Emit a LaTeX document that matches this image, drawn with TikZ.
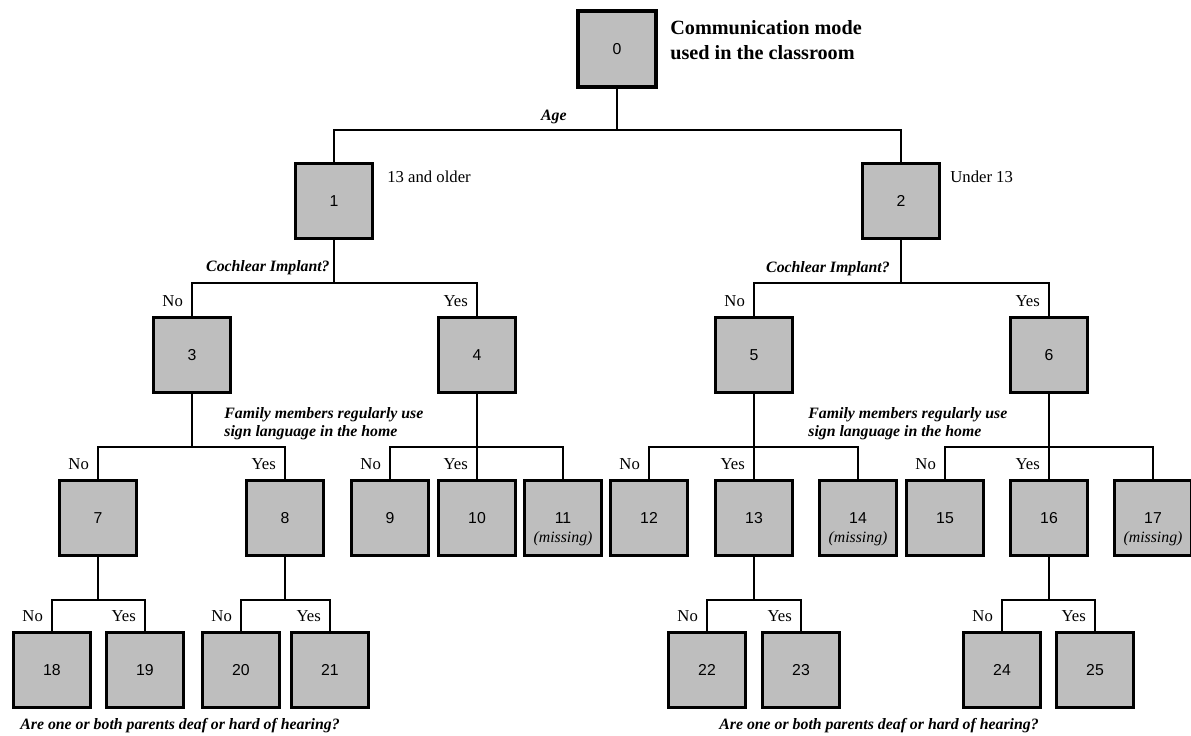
\documentclass[tikz,border=0pt]{standalone}
\usepackage{fontspec}
\setmainfont{Liberation Serif}
\setsansfont{Liberation Sans}
\definecolor{boxgray}{RGB}{190,190,190}

\begin{document}
\begin{tikzpicture}[x=0.02cm, y=-0.02cm,
    box/.style={draw, fill=boxgray, line width=1.3pt, minimum width=1.54cm, minimum height=1.5cm, inner sep=0pt, font=\sffamily\fontsize{9}{11}\selectfont},
    link/.style={line width=1.1pt},
    ans/.style={anchor=base east, inner sep=0pt, font=\fontsize{9.5}{11}\selectfont},
    quest/.style={inner sep=0pt, align=left, font=\bfseries\itshape\fontsize{9}{10.2}\selectfont},
    miss/.style={inner sep=0pt, font=\itshape\fontsize{9}{11}\selectfont}]
    \useasboundingbox (0,0) rectangle (1191,735);

    % Root
    \node[box, line width=1.9pt, minimum width=1.56cm, minimum height=1.52cm] (n0) at (617,49) {0};
    \node[anchor=west, inner sep=0pt, align=left, font=\bfseries\fontsize{11.5}{14}\selectfont] (title) at (670,40) {Communication mode\\used in the classroom};

    % Age
    \node[box] (n1) at (334,201) {1};
    \node[box] (n2) at (901,201) {2};
    \node[anchor=west, inner sep=0pt, font=\fontsize{9.5}{11}\selectfont] (older) at (387,177) {13 and older};
    \node[anchor=west, inner sep=0pt, font=\fontsize{9.5}{11}\selectfont] (under) at (950,177) {Under 13};
    \node[quest, anchor=east] (qage) at (567,117) {Age};

    % Cochlear implant
    \node[box] (n3) at (192,355) {3};
    \node[box] (n4) at (477,355) {4};
    \node[box] (n5) at (754,355) {5};
    \node[box] (n6) at (1049,355) {6};
    \node[quest, anchor=east] (qci1) at (330,268) {Cochlear Implant?};
    \node[quest, anchor=east] (qci2) at (890,269) {Cochlear Implant?};

    % Sign language in the home
    \node[box] (n7) at (98,518) {7};
    \node[box] (n8) at (285,518) {8};
    \node[box] (n9) at (390,518) {9};
    \node[box] (n10) at (477,518) {10};
    \node[box] (n11) at (563,518) {11};
    \node[box] (n12) at (649,518) {12};
    \node[box] (n13) at (754,518) {13};
    \node[box] (n14) at (858,518) {14};
    \node[box] (n15) at (945,518) {15};
    \node[box] (n16) at (1049,518) {16};
    \node[box] (n17) at (1153,518) {17};
    \node[miss] (m11) at ([yshift=-12pt]n11.center) {(missing)};
    \node[miss] (m14) at ([yshift=-12pt]n14.center) {(missing)};
    \node[miss] (m17) at ([yshift=-12pt]n17.center) {(missing)};
    \node[quest, anchor=west] (qsl1) at (224,424) {Family members regularly use\\sign language in the home};
    \node[quest, anchor=west] (qsl2) at (808,424) {Family members regularly use\\sign language in the home};

    % Deaf parents
    \node[box] (n18) at (52,670) {18};
    \node[box] (n19) at (145,670) {19};
    \node[box] (n20) at (241,670) {20};
    \node[box] (n21) at (330,670) {21};
    \node[box] (n22) at (707,670) {22};
    \node[box] (n23) at (801,670) {23};
    \node[box] (n24) at (1002,670) {24};
    \node[box] (n25) at (1095,670) {25};
    \node[quest, anchor=west] (qdp1) at (20,726) {Are one or both parents deaf or hard of hearing?};
    \node[quest, anchor=west] (qdp2) at (719,726) {Are one or both parents deaf or hard of hearing?};

    % Branches
    \coordinate (b0) at (617,130);
    \coordinate (b1) at (334,283);
    \coordinate (b2) at (901,283);
    \coordinate (b3) at (192,447);
    \coordinate (b4) at (477,447);
    \coordinate (b5) at (754,447);
    \coordinate (b6) at (1049,447);
    \coordinate (b7) at (98,600);
    \coordinate (b8) at (285,600);
    \coordinate (b13) at (754,600);
    \coordinate (b16) at (1049,600);
    \foreach \p/\b/\kids in {n0/b0/{n1,n2}, n1/b1/{n3,n4}, n2/b2/{n5,n6},
        n3/b3/{n7,n8}, n4/b4/{n9,n10,n11}, n5/b5/{n12,n13,n14}, n6/b6/{n15,n16,n17},
        n7/b7/{n18,n19}, n8/b8/{n20,n21}, n13/b13/{n22,n23}, n16/b16/{n24,n25}} {
      \draw[link] (\p) -- (\b);
      \foreach \c in \kids
        \draw[link] (\b) -| (\c);
    }

    % Answers
    \foreach \c/\t in {n3/No, n4/Yes, n5/No, n6/Yes, n7/No, n8/Yes, n9/No, n10/Yes,
        n12/No, n13/Yes, n15/No, n16/Yes, n18/No, n19/Yes, n20/No, n21/Yes,
        n22/No, n23/Yes, n24/No, n25/Yes}
      \node[ans] (a\c) at ([xshift=-5pt, yshift=5.5pt]\c.north) {\t};
\end{tikzpicture}
\end{document}
